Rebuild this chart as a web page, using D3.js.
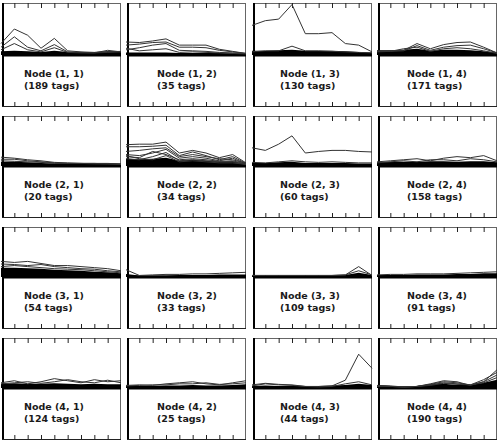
<!DOCTYPE html>
<html>
<head>
<meta charset="utf-8">
<script src="https://cdn.jsdelivr.net/npm/d3@7"></script>
<style>
  body { margin: 0; background: #fff; }
  svg { display: block; }
</style>
</head>
<body>
<svg id="chart"></svg>
<script>
// tag counts per node, row by row
const tagCounts = [
  [189, 35, 130, 171],
  [20, 34, 60, 158],
  [54, 33, 109, 91],
  [124, 25, 44, 190]
];

const xSteps = [0, 1, 2, 3, 4, 5, 6, 7, 8, 9];
const tickSteps = [1, 2, 3, 4, 5, 6, 7, 8];

// upper edge of the dense bundle of near-zero lines in each panel
const bandTops = [
  [0.07, 0.08, 0.07, 0.06, 0.08, 0.06, 0.06, 0.06, 0.07, 0.07],
  [0.05, 0.05, 0.05, 0.05, 0.04, 0.04, 0.04, 0.04, 0.03, 0.02],
  [0.08, 0.08, 0.09, 0.10, 0.08, 0.08, 0.08, 0.07, 0.06, 0.05],
  [0.09, 0.09, 0.10, 0.12, 0.08, 0.10, 0.10, 0.09, 0.07, 0.05],
  [0.08, 0.08, 0.07, 0.06, 0.05, 0.05, 0.05, 0.05, 0.05, 0.04],
  [0.14, 0.13, 0.14, 0.16, 0.10, 0.12, 0.10, 0.08, 0.09, 0.04],
  [0.06, 0.06, 0.07, 0.08, 0.06, 0.06, 0.06, 0.06, 0.05, 0.05],
  [0.07, 0.08, 0.08, 0.08, 0.09, 0.09, 0.08, 0.09, 0.09, 0.07],
  [0.18, 0.18, 0.17, 0.16, 0.14, 0.13, 0.12, 0.10, 0.09, 0.07],
  [0.06, 0.03, 0.03, 0.03, 0.04, 0.04, 0.04, 0.05, 0.05, 0.05],
  [0.04, 0.04, 0.04, 0.04, 0.04, 0.04, 0.04, 0.04, 0.08, 0.04],
  [0.04, 0.04, 0.04, 0.05, 0.05, 0.05, 0.06, 0.06, 0.07, 0.07],
  [0.08, 0.09, 0.08, 0.08, 0.09, 0.08, 0.07, 0.08, 0.07, 0.07],
  [0.04, 0.04, 0.04, 0.05, 0.05, 0.06, 0.05, 0.05, 0.06, 0.07],
  [0.04, 0.05, 0.04, 0.04, 0.04, 0.04, 0.05, 0.06, 0.08, 0.06],
  [0.05, 0.04, 0.03, 0.04, 0.07, 0.08, 0.06, 0.06, 0.10, 0.16]
];

// the lines that stand out above the bundle
const panelLines = [
  // (1,1)
  [[0.22, 0.50, 0.38, 0.13, 0.32, 0.08, 0.06, 0.05, 0.06, 0.07],
   [0.15, 0.35, 0.15, 0.08, 0.20, 0.06, 0.05, 0.04, 0.05, 0.06],
   [0.10, 0.22, 0.10, 0.06, 0.14, 0.05, 0.04, 0.04, 0.09, 0.06]],
  // (1,2)
  [[0.25, 0.24, 0.27, 0.31, 0.19, 0.19, 0.19, 0.11, 0.07, 0.03],
   [0.19, 0.21, 0.24, 0.25, 0.15, 0.15, 0.14, 0.09, 0.06, 0.03],
   [0.10, 0.14, 0.19, 0.22, 0.09, 0.08, 0.07, 0.05, 0.04, 0.03],
   [0.13, 0.08, 0.10, 0.12, 0.05, 0.06, 0.05, 0.04, 0.03, 0.02]],
  // (1,3)
  [[0.57, 0.66, 0.69, 0.97, 0.41, 0.41, 0.43, 0.22, 0.19, 0.06],
   [0.06, 0.08, 0.08, 0.17, 0.08, 0.08, 0.07, 0.06, 0.05, 0.04]],
  // (1,4)
  [[0.08, 0.08, 0.09, 0.22, 0.12, 0.20, 0.24, 0.25, 0.15, 0.04],
   [0.07, 0.07, 0.08, 0.18, 0.09, 0.15, 0.18, 0.19, 0.12, 0.04],
   [0.06, 0.07, 0.12, 0.15, 0.07, 0.12, 0.14, 0.12, 0.08, 0.03]],
  // (2,1)
  [[0.17, 0.15, 0.12, 0.10, 0.07, 0.06, 0.05, 0.05, 0.05, 0.04],
   [0.13, 0.13, 0.10, 0.08, 0.06, 0.05, 0.05, 0.04, 0.04, 0.04],
   [0.10, 0.09, 0.08, 0.07, 0.05, 0.05, 0.05, 0.05, 0.04, 0.03]],
  // (2,2)
  [[0.41, 0.42, 0.42, 0.46, 0.25, 0.30, 0.25, 0.16, 0.22, 0.06],
   [0.37, 0.37, 0.38, 0.40, 0.20, 0.27, 0.20, 0.12, 0.18, 0.05],
   [0.28, 0.30, 0.33, 0.35, 0.18, 0.22, 0.18, 0.14, 0.12, 0.05],
   [0.22, 0.20, 0.25, 0.32, 0.15, 0.18, 0.15, 0.10, 0.15, 0.04],
   [0.18, 0.16, 0.28, 0.22, 0.12, 0.14, 0.12, 0.09, 0.10, 0.04],
   [0.14, 0.12, 0.18, 0.26, 0.10, 0.12, 0.10, 0.08, 0.08, 0.03],
   [0.20, 0.14, 0.12, 0.20, 0.08, 0.10, 0.08, 0.06, 0.06, 0.03]],
  // (2,3)
  [[0.35, 0.30, 0.42, 0.58, 0.25, 0.28, 0.30, 0.30, 0.28, 0.27],
   [0.07, 0.06, 0.08, 0.10, 0.08, 0.07, 0.08, 0.07, 0.06, 0.06]],
  // (2,4)
  [[0.08, 0.10, 0.12, 0.14, 0.10, 0.15, 0.18, 0.16, 0.20, 0.10],
   [0.06, 0.08, 0.10, 0.08, 0.12, 0.12, 0.10, 0.14, 0.12, 0.08]],
  // (3,1)
  [[0.30, 0.28, 0.30, 0.26, 0.22, 0.22, 0.20, 0.18, 0.16, 0.12],
   [0.25, 0.24, 0.22, 0.24, 0.20, 0.18, 0.16, 0.15, 0.12, 0.10],
   [0.20, 0.22, 0.20, 0.18, 0.16, 0.15, 0.14, 0.12, 0.10, 0.08]],
  // (3,2)
  [[0.14, 0.03, 0.04, 0.05, 0.05, 0.06, 0.06, 0.07, 0.08, 0.09]],
  // (3,3)
  [[0.03, 0.03, 0.03, 0.03, 0.03, 0.03, 0.03, 0.04, 0.20, 0.03],
   [0.03, 0.03, 0.03, 0.03, 0.03, 0.03, 0.03, 0.04, 0.12, 0.04]],
  // (3,4)
  [[0.04, 0.05, 0.05, 0.06, 0.06, 0.06, 0.07, 0.08, 0.09, 0.10]],
  // (4,1)
  [[0.10, 0.14, 0.08, 0.12, 0.18, 0.14, 0.10, 0.16, 0.12, 0.14],
   [0.08, 0.10, 0.12, 0.09, 0.12, 0.16, 0.12, 0.10, 0.15, 0.10]],
  // (4,2)
  [[0.05, 0.06, 0.05, 0.08, 0.10, 0.12, 0.08, 0.06, 0.10, 0.14],
   [0.04, 0.05, 0.06, 0.06, 0.08, 0.08, 0.10, 0.07, 0.08, 0.10]],
  // (4,3)
  [[0.04, 0.08, 0.06, 0.05, 0.03, 0.03, 0.04, 0.15, 0.65, 0.38],
   [0.06, 0.09, 0.07, 0.06, 0.03, 0.02, 0.03, 0.08, 0.12, 0.06]],
  // (4,4)
  [[0.05, 0.04, 0.02, 0.03, 0.08, 0.14, 0.12, 0.05, 0.12, 0.35],
   [0.04, 0.03, 0.02, 0.03, 0.07, 0.12, 0.10, 0.06, 0.16, 0.30],
   [0.04, 0.03, 0.02, 0.03, 0.06, 0.10, 0.08, 0.06, 0.12, 0.25],
   [0.03, 0.03, 0.02, 0.03, 0.05, 0.09, 0.07, 0.06, 0.10, 0.20]]
];

const W = 499, H = 448;
const svg = d3.select('#chart').attr('width', W).attr('height', H);

const panelW = 119;
const colPitch = 125.33, rowPitch = 111;
const textOffsets = [22, 30, 27, 29];

tagCounts.forEach((row, r) => {
  row.forEach((count, c) => {
    const idx = r * 4 + c;
    const left = Math.round(2 + colPitch * c);
    const top = r === 0 ? 3 : 5 + rowPitch * r;
    const bottom = 106 + rowPitch * r;
    const zero = 55 + rowPitch * r;

    const x = d3.scaleLinear().domain([0, 9]).range([left - 1, left + panelW]);
    const y = d3.scaleLinear().domain([0, 1]).range([zero, zero - 52]);

    const g = svg.append('g');

    // frame
    g.append('rect')
      .attr('x', left + 0.5).attr('y', top + 0.5)
      .attr('width', panelW - 1).attr('height', bottom - top)
      .attr('fill', '#fff')
      .attr('stroke', '#666');
    g.append('line')
      .attr('x1', left + 1).attr('x2', left + 1)
      .attr('y1', top).attr('y2', bottom + 1)
      .attr('stroke', '#000').attr('stroke-width', 2);
    g.append('line')
      .attr('x1', left).attr('x2', left + panelW)
      .attr('y1', bottom + 0.5).attr('y2', bottom + 0.5)
      .attr('stroke', '#222');

    // ticks top and bottom
    g.append('g')
      .attr('transform', `translate(0,${top})`)
      .call(d3.axisBottom(x).tickValues(tickSteps).tickSize(5).tickFormat(''))
      .call(a => a.select('.domain').remove())
      .selectAll('line').attr('stroke', '#222');
    g.append('g')
      .attr('transform', `translate(0,${bottom + 1})`)
      .call(d3.axisTop(x).tickValues(tickSteps).tickSize(5).tickFormat(''))
      .call(a => a.select('.domain').remove())
      .selectAll('line').attr('stroke', '#222');

    // dense bundle near zero
    const area = d3.area()
      .x((d, i) => x(xSteps[i]))
      .y0(y(0))
      .y1(d => y(d));
    g.append('path')
      .datum(bandTops[idx])
      .attr('fill', '#000')
      .attr('d', area);

    g.append('line')
      .attr('x1', left).attr('x2', left + panelW)
      .attr('y1', y(0)).attr('y2', y(0))
      .attr('stroke', '#000').attr('stroke-width', 3);

    const line = d3.line()
      .x((d, i) => x(xSteps[i]))
      .y(d => y(d));

    g.selectAll('.serie')
      .data(panelLines[idx])
      .enter().append('path')
      .attr('class', 'serie')
      .attr('fill', 'none')
      .attr('stroke', '#333')
      .attr('stroke-width', 1)
      .attr('d', line);

    // label
    const tx = left + textOffsets[c];
    const label = g.append('text')
      .attr('font-family', '"DejaVu Sans", Verdana, sans-serif')
      .attr('font-weight', 'bold')
      .attr('font-size', '9.5px')
      .attr('fill', '#1a1a1a');
    label.append('tspan')
      .attr('x', tx).attr('y', zero + 22)
      .text(`Node (${r + 1}, ${c + 1})`);
    label.append('tspan')
      .attr('x', tx).attr('y', zero + 34)
      .text(`(${count} tags)`);
  });
});
</script>
</body>
</html>
